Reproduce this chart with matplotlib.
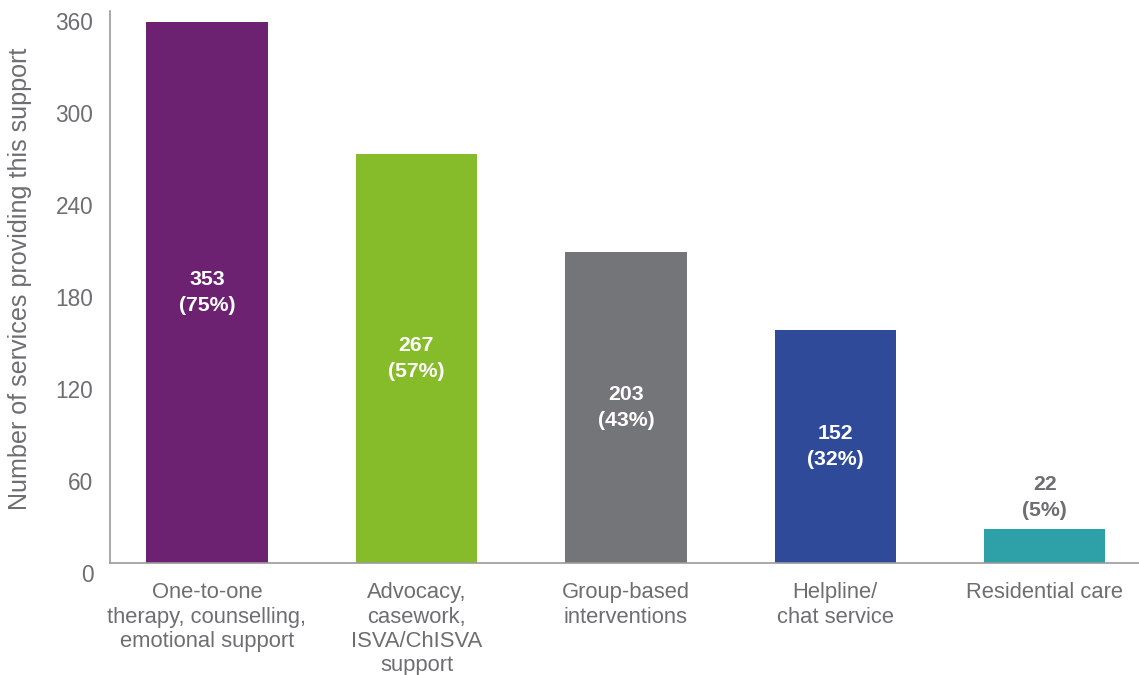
import matplotlib.pyplot as plt
import matplotlib.transforms as mtransforms

# Support types and number of services offering each
categories = [
    "One-to-one\ntherapy, counselling,\nemotional support",
    "Advocacy,\ncasework,\nISVA/ChISVA\nsupport",
    "Group-based\ninterventions",
    "Helpline/\nchat service",
    "Residential care",
]
counts = [353, 267, 203, 152, 22]
shares = [75, 57, 43, 32, 5]
bar_colors = ["#6c2270", "#86bc29", "#747578", "#2e4a98", "#2ea0a8"]
yticks = [0, 60, 120, 180, 240, 300, 360]

text_grey = "#6d6e71"
plt.rcParams["font.family"] = ["Liberation Sans", "DejaVu Sans"]

fig = plt.figure(figsize=(11.39, 6.75), dpi=100)
ax = fig.add_axes([0.0966, 0.166, 0.9034, 0.817])

x = list(range(len(counts)))
ax.bar(x, counts, width=0.58, color=bar_colors)

for i, (n, pct) in enumerate(zip(counts, shares)):
    label = f"{n}\n({pct}%)"
    if n > 60:
        ax.text(i, n / 2, label, ha="center", va="center", color="white",
                fontsize=15.3, fontweight="bold", linespacing=1.5)
    else:
        ax.text(i, n + 6, label, ha="center", va="bottom", color=text_grey,
                fontsize=15.3, fontweight="bold", linespacing=1.5)

ax.set_xlim(-0.463, 4.45)
ax.set_ylim(0, 360)
ax.set_yticks(yticks)
ax.set_xticks(x)
ax.set_xticklabels(categories, fontsize=15.8, color=text_grey, linespacing=1.2, va="top")
ax.tick_params(axis="both", length=0)
ax.tick_params(axis="x", pad=14)
ax.tick_params(axis="y", pad=12, labelsize=16.3, labelcolor=text_grey)

# the y tick labels sit a little below their gridline positions
shift = mtransforms.ScaledTranslation(0, -10 / 100, fig.dpi_scale_trans)
for lab in ax.get_yticklabels():
    lab.set_transform(lab.get_transform() + shift)

ax.set_ylabel("Number of services providing this support", fontsize=18.1,
              color=text_grey)
ax.yaxis.set_label_coords(-0.076, 0.516)

for side in ["top", "right"]:
    ax.spines[side].set_visible(False)
for side in ["left", "bottom"]:
    ax.spines[side].set_color("#9a9a9a")
    ax.spines[side].set_linewidth(1.2)

fig.savefig("out.png", dpi=100)
